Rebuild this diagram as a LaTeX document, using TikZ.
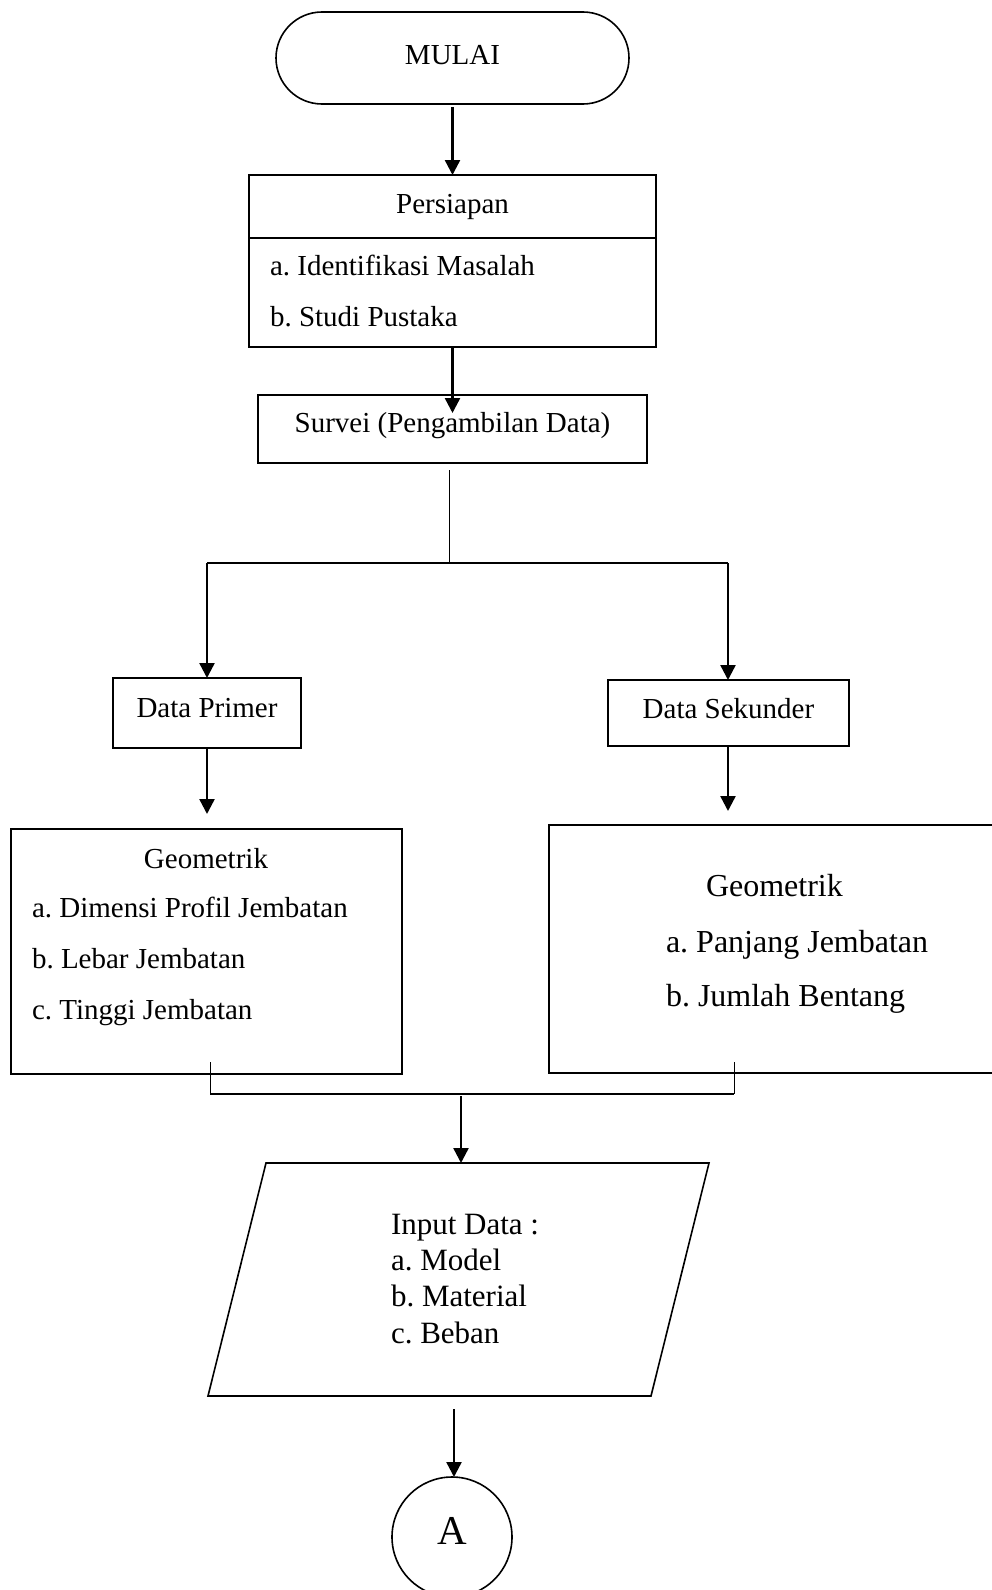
\documentclass[tikz,border=0pt]{standalone}
\usepackage{fontspec}
\setmainfont{Liberation Serif}
\usetikzlibrary{arrows.meta,shapes.misc}
\frenchspacing
\begin{document}
\begin{tikzpicture}[x=1pt,y=-1pt,
  box/.style={draw, line width=2.4pt, inner sep=0pt, outer sep=0pt, anchor=north west},
  txt/.style={inner sep=0pt, outer sep=0pt, font=\fontsize{29}{34}\selectfont},
  txtB/.style={inner sep=0pt, outer sep=0pt, font=\fontsize{32}{38}\selectfont},
  txtI/.style={inner sep=0pt, outer sep=0pt, font=\fontsize{31}{36}\selectfont},
  arr/.style={line width=2.4pt, -{Triangle[length=15pt,width=15pt]}},
  conn/.style={line width=1pt},
  connB/.style={line width=1.6pt},
  outl/.style={draw, line width=1.6pt}]
\path[use as bounding box, fill=white] (0,0) rectangle (992,1590);

% MULAI
\node[outl, rounded rectangle, minimum width=353pt, minimum height=92pt, inner sep=0pt, outer sep=0pt] (mulai) at (452.5,58) {};
\node[txt, anchor=base] (mulaiT) at (452.5,64) {MULAI};

% Persiapan
\node[box, minimum width=407pt, minimum height=63pt] (persH) at (249,175) {};
\node[box, minimum width=407pt, minimum height=109pt] (persL) at (249,238) {};
\node[txt, anchor=base] (persT) at (452.5,213) {Persiapan};
\node[txt, anchor=base west] (persA) at (270,275) {a. Identifikasi Masalah};
\node[txt, anchor=base west] (persB) at (270,326) {b. Studi Pustaka};

% Survei
\node[box, minimum width=389pt, minimum height=68pt] (survei) at (258,395) {};
\node[txt, anchor=base] (surveiT) at (452.5,432) {Survei (Pengambilan Data)};

% Data boxes
\node[box, minimum width=188pt, minimum height=70pt] (primer) at (113,678) {};
\node[txt, anchor=base] (primerT) at (207,717) {Data Primer};
\node[box, minimum width=241pt, minimum height=66pt] (sekunder) at (608,680) {};
\node[txt, anchor=base] (sekunderT) at (728.5,718) {Data Sekunder};

% Geometrik left
\node[box, minimum width=391pt, minimum height=245pt] (geo1) at (11,829) {};
\node[txt, anchor=base] (geo1T) at (206,868) {Geometrik};
\node[txt, anchor=base west] (geo1A) at (32,917) {a. Dimensi Profil Jembatan};
\node[txt, anchor=base west] (geo1B) at (32,968) {b. Lebar Jembatan};
\node[txt, anchor=base west] (geo1C) at (32,1019) {c. Tinggi Jembatan};

% Geometrik right
\node[box, minimum width=460pt, minimum height=248pt] (geo2) at (549,825) {};
\node[txtB, anchor=base west] (geo2T) at (706,896) {Geometrik};
\node[txtB, anchor=base west] (geo2A) at (666,952) {a. Panjang Jembatan};
\node[txtB, anchor=base west] (geo2B) at (666,1006) {b. Jumlah Bentang};

% Input parallelogram
\coordinate (inTL) at (266,1163);
\coordinate (inTR) at (709,1163);
\coordinate (inBR) at (651,1396);
\coordinate (inBL) at (208,1396);
\coordinate (inTop) at (461,1163);
\draw[outl] (inTL) -- (inTR) -- (inBR) -- (inBL) -- cycle;
\node[txtI, anchor=base west] (inT) at (391,1234) {Input Data :};
\node[txtI, anchor=base west] (inA) at (391,1270) {a. Model};
\node[txtI, anchor=base west] (inB) at (391,1306) {b. Material};
\node[txtI, anchor=base west] (inC) at (391,1343) {c. Beban};

% Connector A
\node[outl, circle, minimum size=120pt, inner sep=0pt, outer sep=0pt] (A) at (452,1537) {};
\node[inner sep=0pt, font=\fontsize{41}{48}\selectfont, anchor=base] (AT) at (452,1544) {A};

% connectors
\draw[arr] ([yshift=-3pt]mulai.south) -- (persH.north);
\draw[arr] (persL.south) -- ([yshift=-18pt]survei.north);

\coordinate (sTop) at (449,470);
\coordinate (split) at (449,563);
\coordinate (splitL) at (207,563);
\coordinate (splitR) at (728,563);
\draw[conn] (sTop) -- (split);
\draw[connB] (splitL) -- (splitR);
\draw[arr] (splitL) -- (primer.north);
\draw[arr] (splitR) -- (splitR |- sekunder.north);

\draw[arr, shorten >=15pt] (primer.south) -- (primer.south |- geo1.north);
\draw[arr, shorten >=14pt] (splitR |- sekunder.south) -- (splitR |- geo2.north);

\coordinate (gL) at (210,1062);
\coordinate (gR) at (734,1062);
\coordinate (jL) at (210,1094);
\coordinate (jR) at (734,1094);
\coordinate (jM) at (461,1096);
\draw[conn] (gL) -- (jL);
\draw[conn] (gR) -- (jR);
\draw[connB] (jL) -- (jR);
\draw[arr] (jM) -- (inTop);

\coordinate (inBot) at (454,1409);
\draw[arr] (inBot) -- (inBot |- A.north);
\end{tikzpicture}
\end{document}
